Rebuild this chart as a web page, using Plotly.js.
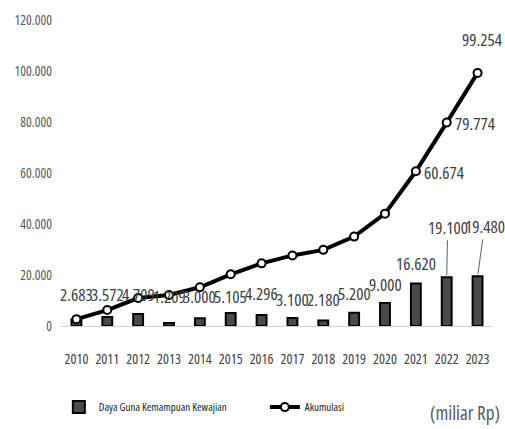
<!DOCTYPE html>
<html>
<head>
<meta charset="utf-8">
<script src="https://cdn.plot.ly/plotly-3.0.1.min.js"></script>
<style>html,body{margin:0;padding:0;background:#fff;}#chart{width:505px;height:429px;}
svg text{font-stretch:condensed;}</style>
</head>
<body>
<div id="chart"></div>
<script>
const years = ['2010','2011','2012','2013','2014','2015','2016','2017','2018','2019','2020','2021','2022','2023'];
const dayaGuna = [2683, 3572, 4709, 1209, 3000, 5105, 4296, 3100, 2180, 5200, 9000, 16620, 19100, 19480];
const akumulasi = [2683, 6255, 10964, 12173, 15173, 20278, 24574, 27674, 29854, 35054, 44054, 60674, 79774, 99254];
const yTicks = [0, 20000, 40000, 60000, 80000, 100000, 120000];
const seriesNames = ['Daya Guna Kemampuan Kewajian', 'Akumulasi'];
const unitNote = '(miliar Rp)';
const accLabelYears = ['2021', '2022', '2023'];

const FONT = '"Open Sans", "Roboto", sans-serif';
const fmt = v => v.toString().replace(/\B(?=(\d{3})+(?!\d))/g, '.');

// label heights (data units) for bar value labels, manually placed as in reference
const barLabelY = [12500, 12500, 12500, 11700, 11700, 11700, 12900, 10200, 10200, 12900, 16400, 24700];

const annotations = [];
years.forEach((yr, i) => {
  if (i < 12) {
    annotations.push({x: i, y: barLabelY[i], xref: 'x', yref: 'y', text: fmt(dayaGuna[i]),
      showarrow: false, font: {family: FONT, size: 17, color: '#404040'}});
  } else {
    annotations.push({x: i, y: dayaGuna[i], xref: 'x', yref: 'y', text: fmt(dayaGuna[i]),
      showarrow: true, arrowhead: 0, arrowwidth: 1, arrowcolor: '#606060',
      ax: i === 13 ? 7 : 1, ay: -50, standoff: 2,
      font: {family: FONT, size: 17, color: '#404040'}});
  }
});
accLabelYears.forEach(yr => {
  const i = years.indexOf(yr);
  const isLast = i === years.length - 1;
  annotations.push({x: i, y: akumulasi[i], xref: 'x', yref: 'y', text: fmt(akumulasi[i]),
    showarrow: false, xanchor: isLast ? 'center' : 'left', yanchor: isLast ? 'bottom' : 'middle',
    xshift: isLast ? 4 : 6, yshift: isLast ? 20 : -1,
    font: {family: FONT, size: 17, color: '#404040'}});
});
annotations.push({x: 1, y: 0, xref: 'paper', yref: 'paper', xanchor: 'right', yanchor: 'middle',
  yshift: -87, xshift: 9, text: unitNote, showarrow: false,
  font: {family: FONT, size: 19, color: '#595959'}});

const traces = [
  {type: 'bar', x: years, y: dayaGuna, name: seriesNames[0], width: 0.32,
   marker: {color: '#4a4a4a', line: {color: '#000', width: 2}}},
  {type: 'scatter', mode: 'lines+markers', x: years, y: akumulasi, name: seriesNames[1],
   line: {color: '#000', width: 4}, marker: {symbol: 'circle', size: 8, color: '#fff', line: {color: '#000', width: 2}}}
];

const layout = {
  width: 505, height: 429,
  margin: {l: 61, r: 12, t: 20, b: 103, autoexpand: false},
  paper_bgcolor: '#fff', plot_bgcolor: '#fff',
  separators: ',.',
  showlegend: true,
  legend: {orientation: 'h', x: -0.005, xanchor: 'left', y: -0.265, yanchor: 'middle',
    font: {family: FONT, size: 11, color: '#222'}, entrywidth: 161, itemwidth: 30, traceorder: 'normal'},
  xaxis: {type: 'category', range: [-0.5, 13.5], showgrid: false, zeroline: false,
    showline: true, linecolor: '#d0d0d0', linewidth: 1, layer: 'below traces',
    ticks: '', ticklabelstandoff: 20, tickangle: 0,
    tickfont: {family: FONT, size: 14, color: '#404040'}},
  yaxis: {range: [0, 120000], tickvals: yTicks, tickformat: ',d', showgrid: false, zeroline: false,
    showline: false, ticks: '', ticklabelstandoff: 8,
    tickfont: {family: FONT, size: 13.5, color: '#595959'}},
  annotations: annotations
};

Plotly.newPlot('chart', traces, layout, {displayModeBar: false, staticPlot: true});
</script>
</body>
</html>
